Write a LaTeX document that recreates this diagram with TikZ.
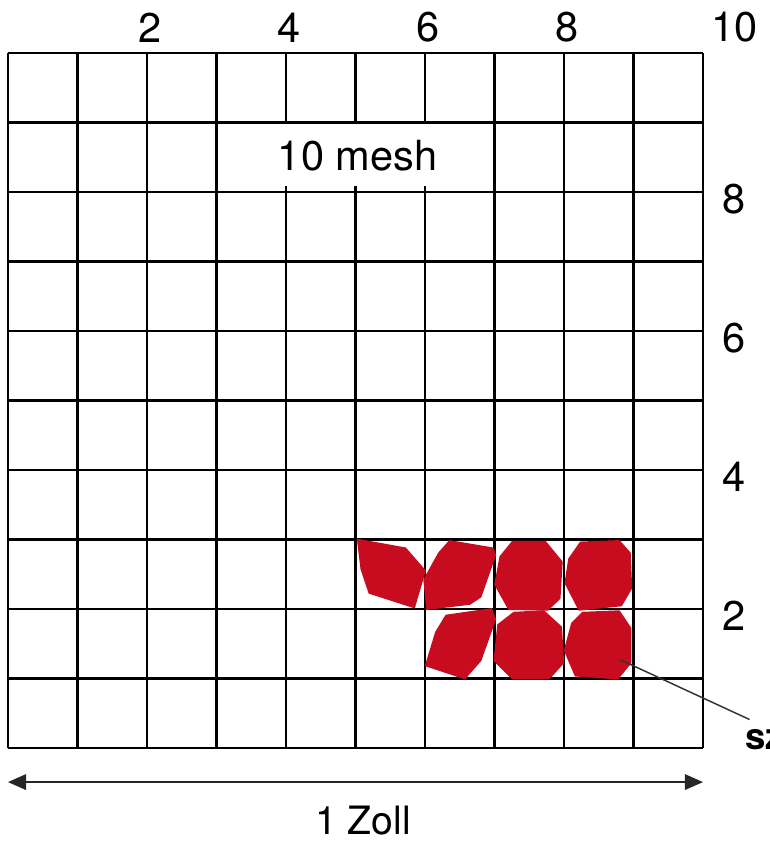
\documentclass[tikz,border=0pt]{standalone}
\usepackage{fontspec}
\setmainfont{TeX Gyre Heros}
\usepackage{xcolor}
\usepackage{tikz}
\usetikzlibrary{arrows.meta}

\definecolor{grainred}{RGB}{198,12,30}

% one grain in a mesh cell: cell corner x, cell corner y, outline
\newcommand{\grain}[3]{%
  \fill[grainred, shift={(#1-0.035,#2-0.035)}, scale=1.07] #3 -- cycle;}

\begin{document}
\begin{tikzpicture}[
    x=1cm, y=1cm,
    gridline/.style={line width=1.1pt, black},
    num/.style={font=\fontsize{17}{20}\selectfont, inner sep=1pt},
    meshlabel/.style={num, fill=white, inner xsep=3pt, minimum height=0.9cm},
    dimarrow/.style={{Triangle[length=7.4pt,width=6.4pt]}-{Triangle[length=7.4pt,width=6.4pt]}, line width=0.6pt, black!85},
    leader/.style={line width=0.6pt, black!80},
]
\useasboundingbox (-0.115,-1.381) rectangle (10.95,10.763);

% Sieve mesh
\draw[gridline] (0,0) grid (10,10);
\node[meshlabel] (mesh) at (5.03,8.53) {10 mesh};

% Scale numbers
\foreach \k in {2,4,6,8}
  \node[num] (top\k) at (\k+0.05,10.37) {\k};
\foreach \k in {2,4,6,8}
  \node[num] (side\k) at (10.45,\k-0.1) {\k};
\node[num] (ten) at (10.46,10.37) {10};

% Grains
\grain{5}{2}{(0.05,0.98) -- (0.71,0.86) -- (0.98,0.55) -- (0.83,0.04) -- (0.21,0.24) -- (0.10,0.57)}
\grain{6}{2}{(0.36,0.96) -- (0.95,0.86) -- (0.99,0.76) -- (0.79,0.19) -- (0.64,0.09) -- (0.05,0.02) -- (0.01,0.43) -- (0.21,0.79)}
\grain{7}{2}{(0.27,0.95) -- (0.72,0.95) -- (0.95,0.67) -- (0.92,0.17) -- (0.75,0.01) -- (0.22,0.02) -- (0.03,0.36) -- (0.10,0.74)}
\grain{8}{2}{(0.25,0.94) -- (0.78,0.96) -- (0.93,0.79) -- (0.95,0.31) -- (0.81,0.07) -- (0.23,0.01) -- (0.04,0.38) -- (0.09,0.71)}
\grain{6}{1}{(0.31,0.89) -- (0.93,0.98) -- (0.99,0.83) -- (0.79,0.27) -- (0.57,0.02) -- (0.03,0.20) -- (0.17,0.66)}
\grain{7}{1}{(0.29,0.93) -- (0.70,0.95) -- (0.94,0.73) -- (0.97,0.24) -- (0.77,0.02) -- (0.27,0.02) -- (0.02,0.27) -- (0.07,0.76)}
\grain{8}{1}{(0.28,0.93) -- (0.78,0.95) -- (0.94,0.71) -- (0.94,0.24) -- (0.76,0.02) -- (0.18,0.06) -- (0.03,0.41) -- (0.13,0.78)}

% Grain label
\coordinate (tip) at (8.81,1.27);
\node[anchor=north west, inner sep=0pt, font=\fontsize{15}{18}\selectfont\bfseries] (sz) at (10.6,0.27) {sz};
\draw[leader] (tip) -- ([shift={(0.07,0.14)}]sz.north west);

% Width
\coordinate (left) at (0,-0.49);
\coordinate (right) at (10,-0.49);
\draw[dimarrow] (left) -- (right);
\node[num, font=\fontsize{16}{19}\selectfont] (zoll) at (5.11,-1.04) {1 Zoll};

\end{tikzpicture}
\end{document}
